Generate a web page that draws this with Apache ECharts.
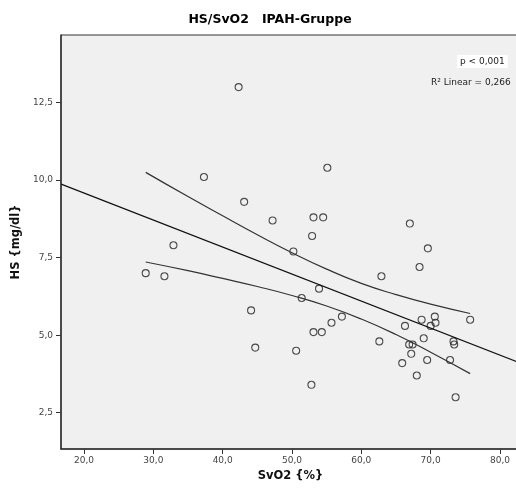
<!DOCTYPE html>
<html>
<head>
<meta charset="utf-8">
<script src="https://cdn.jsdelivr.net/npm/echarts@6/dist/echarts.min.js"></script>
<style>
  html, body { margin: 0; padding: 0; background: #fff; }
  #chart { width: 516px; height: 493px; }
</style>
</head>
<body>
<div id="chart"></div>
<script>
// SvO2 (%) per patient
const svo2 = [42.3, 37.3, 43.1, 47.2, 55.1, 53.1, 54.5, 52.9, 67.0, 32.9, 28.9, 31.6, 44.1, 44.7,
    69.6, 50.2, 68.4, 62.9, 53.9, 51.4, 57.2, 68.7, 70.6, 70.7, 75.7, 70.0, 66.3, 55.7, 53.1, 54.3,
    69.0, 62.6, 66.9, 67.4, 73.3, 73.4, 50.6, 67.2, 65.9, 69.5, 72.8, 68.0, 52.8, 73.6];
// HS (mg/dl) per patient
const hs = [13.0, 10.1, 9.3, 8.7, 10.4, 8.8, 8.8, 8.2, 8.6, 7.9, 7.0, 6.9, 5.8, 4.6,
    7.8, 7.7, 7.2, 6.9, 6.5, 6.2, 5.6, 5.5, 5.6, 5.4, 5.5, 5.3, 5.3, 5.4, 5.1, 5.1,
    4.9, 4.8, 4.7, 4.7, 4.8, 4.7, 4.5, 4.4, 4.1, 4.2, 4.2, 3.7, 3.4, 3.0];

// linear fit line (read at plot edges)
const fitX = [16.7, 83.3];
const fitY = [9.87, 4.07];

// 95% CI of the mean
const ciX = [28.9, 35, 40, 45, 50, 55, 60, 65, 70, 75.7];
const ciUpper = [10.25, 9.47, 8.85, 8.24, 7.66, 7.13, 6.67, 6.31, 6.00, 5.70];
const ciLower = [7.36, 7.08, 6.83, 6.57, 6.28, 5.94, 5.52, 5.02, 4.45, 3.76];

const xTicks = [20, 30, 40, 50, 60, 70, 80];
const yTicks = [2.5, 5, 7.5, 10, 12.5];

const font = 'DejaVu Sans';
const fmt = (v) => v.toFixed(1).replace('.', ',');
const pair = (xs, ys) => xs.map((x, i) => [x, ys[i]]);

let chart = echarts.init(document.getElementById('chart'));
let option = {
    animation: false,
    title: [
        {
            text: 'HS/SvO2   IPAH-Gruppe',
            left: 265, top: 8, textAlign: 'center',
            textStyle: { fontFamily: font, fontSize: 12.5, fontWeight: 'bold', color: '#000' },
        },
        {
            text: 'p < 0,001',
            left: 457, top: 55,
            padding: [2, 3],
            backgroundColor: '#fff',
            textStyle: { fontFamily: font, fontSize: 9, fontWeight: 'normal', color: '#222' },
        },
        {
            text: 'R² Linear = 0,266',
            left: 431, top: 78,
            padding: 0,
            textStyle: { fontFamily: font, fontSize: 9, fontWeight: 'normal', color: '#222' },
        },
    ],
    grid: {
        left: 61, top: 35, width: 459, height: 414,
        outerBoundsMode: 'none',
        show: true,
        backgroundColor: '#f0f0f0',
        borderColor: '#333',
        borderWidth: 1,
    },
    xAxis: {
        type: 'value',
        min: 16.68, max: 82.89,
        name: 'SvO2 {%}',
        nameLocation: 'middle',
        nameGap: 19,
        nameTextStyle: { fontFamily: font, fontSize: 11.5, fontWeight: 'bold', color: '#111' },
        axisLine: { lineStyle: { color: '#333', width: 1.5 } },
        axisTick: { length: 5, lineStyle: { color: '#333' }, customValues: xTicks },
        axisLabel: {
            fontFamily: font, fontSize: 9, color: '#444', margin: 7,
            customValues: xTicks, formatter: fmt,
        },
        splitLine: { show: false },
    },
    yAxis: {
        type: 'value',
        min: 1.33, max: 14.68,
        name: 'HS {mg/dl}',
        nameLocation: 'middle',
        nameGap: 29,
        nameTextStyle: { fontFamily: font, fontSize: 11.5, fontWeight: 'bold', color: '#111' },
        axisLine: { lineStyle: { color: '#333', width: 1.5 } },
        axisTick: { length: 5, lineStyle: { color: '#333' }, customValues: yTicks },
        axisLabel: {
            fontFamily: font, fontSize: 9, color: '#444', margin: 8,
            customValues: yTicks, formatter: fmt,
        },
        splitLine: { show: false },
    },
    series: [
        {
            name: 'Fit',
            type: 'line',
            data: pair(fitX, fitY),
            symbol: 'none',
            lineStyle: { color: '#111', width: 1.2 },
        },
        {
            name: 'CI upper',
            type: 'line',
            smooth: true,
            data: pair(ciX, ciUpper),
            symbol: 'none',
            lineStyle: { color: '#333', width: 1.2 },
        },
        {
            name: 'CI lower',
            type: 'line',
            smooth: true,
            data: pair(ciX, ciLower),
            symbol: 'none',
            lineStyle: { color: '#333', width: 1.2 },
        },
        {
            name: 'HS',
            type: 'scatter',
            data: pair(svo2, hs),
            symbol: 'circle',
            symbolSize: 7,
            itemStyle: { color: 'rgba(0,0,0,0)', borderColor: '#222', borderWidth: 1.1 },
        },
    ],
};
chart.setOption(option);
</script>
</body>
</html>
